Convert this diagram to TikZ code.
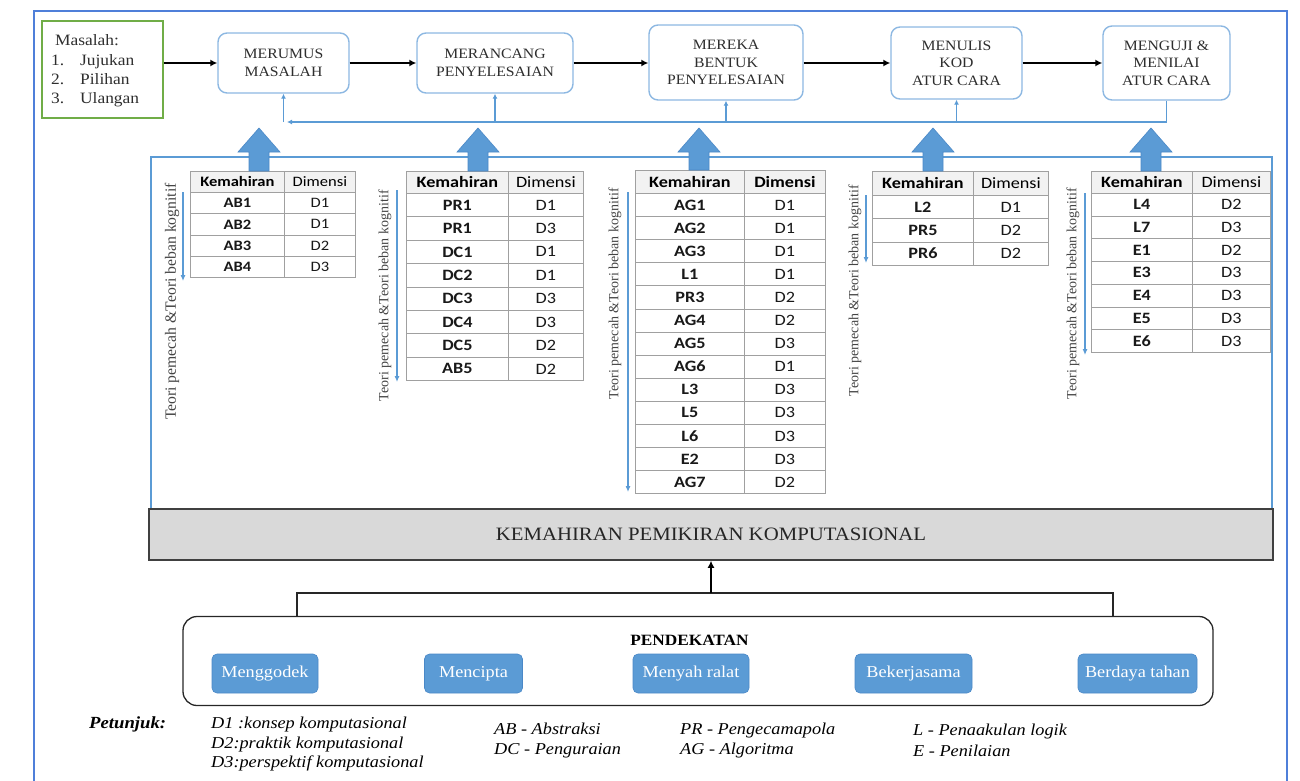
\documentclass[tikz,border=0pt]{standalone}
\usepackage{fontspec}
\setmainfont{Liberation Serif}[FakeStretch=1.1]
\newfontfamily\sidefont{Liberation Serif}
\newfontfamily\tabfont{Carlito}[FakeStretch=1.15]
\usetikzlibrary{arrows.meta}

\definecolor{outerblue}{HTML}{4F7FD9}
\definecolor{paleblue}{HTML}{5B9BD5}
\definecolor{arrowedge}{HTML}{4A88C7}
\definecolor{stageblue}{HTML}{8DB8E2}
\definecolor{probgreen}{HTML}{70AD47}
\definecolor{gridgray}{HTML}{A0A0A0}
\definecolor{headfill}{HTML}{F2F2F2}
\definecolor{bandfill}{HTML}{D9D9D9}
\definecolor{bandline}{HTML}{404040}
\definecolor{inkgray}{HTML}{2E2E2E}
\definecolor{softink}{HTML}{444444}

% one skills table: name, left x, column split x, right x, top y,
% header height, row height, font size, list of skill/dimension pairs
\newcommand\skilltab[9]{%
  \node[headcell, minimum width={#3-#2}, minimum height={#6},
        font=\tabfont\fontsize{#8}{#8}\selectfont\bfseries] (#1-hk) at (#2,#5) {Kemahiran};
  \node[headcell, minimum width={#4-#3}, minimum height={#6},
        font=\tabfont\fontsize{#8}{#8}\selectfont\dimstyle] (#1-hd) at (#3,#5) {Dimensi};
  \foreach \k/\d [count=\i] in {#9}{%
    \node[cell, minimum width={#3-#2}, minimum height={#7},
          font=\tabfont\fontsize{#8}{#8}\selectfont\bfseries] (#1-k\i) at (#2,{#5+#6+(\i-1)*#7}) {\k};
    \node[cell, minimum width={#4-#3}, minimum height={#7},
          font=\tabfont\fontsize{#8}{#8}\selectfont] (#1-d\i) at (#3,{#5+#6+(\i-1)*#7}) {\d};
  }%
}
% rotated side label with its downward arrow: name, text x, arrow x,
% text top, arrow top, arrow bottom, font size
\newcommand\sidenote[7]{%
  \node[sidetext, font=\sidefont\fontsize{#7}{#7}\selectfont] (#1-note) at (#2,#4)
       {Teori pemecah \&Teori beban kognitif};
  \coordinate (#1-atop) at (#3,#5);
  \coordinate (#1-abot) at (#3,#6);
  \draw[sidearrow] (#1-atop) -- (#1-abot);
}
% fat upward block arrow: centre x, bottom y
\newcommand\bigup[2]{%
  \filldraw[fill=paleblue, draw=arrowedge, line width=0.6pt]
    (#1,128) -- (#1+21,152) -- (#1+10,152) -- (#1+10,#2)
    -- (#1-10,#2) -- (#1-10,152) -- (#1-21,152) -- cycle;
}

\begin{document}
\begin{tikzpicture}[x=1pt,y=-1pt,
  probbox/.style={draw=probgreen, line width=1.3pt, minimum width=121, minimum height=97, inner sep=0pt},
  stage/.style={draw=stageblue, line width=1.4pt, rounded corners=9pt, fill=white,
    align=center, text=inkgray, inner sep=0pt, font=\fontsize{14.3}{17.6}\selectfont},
  blk/.style={line width=1.8pt, -{Latex[length=7pt,width=7pt]}},
  fb/.style={draw=paleblue, line width=1.1pt},
  fbtip/.style={fb, -{Latex[length=5pt,width=5pt]}},
  headcell/.style={draw=gridgray, fill=headfill, line width=0.8pt, anchor=north west,
    inner sep=0pt, text=black},
  cell/.style={draw=gridgray, fill=white, line width=0.8pt, anchor=north west,
    inner sep=0pt, text=black!90},
  sidetext/.style={rotate=90, anchor=east, inner sep=0pt, text=softink},
  sidearrow/.style={draw=paleblue, line width=1.1pt, -{Latex[length=6pt,width=5pt]}},
  band/.style={draw=bandline, fill=bandfill, line width=1.5pt, inner sep=0pt,
    minimum width=1124, minimum height=51, text=black!85,
    font=\fontsize{18.9}{22}\selectfont},
  approach/.style={draw=black!85, line width=1.3pt, rounded corners=14pt,
    minimum width=1030, minimum height=89, inner sep=0pt},
  pill/.style={fill=paleblue, draw=arrowedge, line width=0.6pt, rounded corners=5pt,
    minimum height=39, inner sep=0pt, text=white, font=\fontsize{16.6}{20}\selectfont},
  legend/.style={inner sep=0pt, anchor=base west, font=\fontsize{16.6}{20}\selectfont\itshape}
]
\useasboundingbox (0,0) rectangle (1300,780);

% outer frame
\draw[outerblue, line width=1.2pt] (34,795) -- (34,11) -- (1287,11) -- (1287,795);

% problem box
\node[probbox] (masalah) at (102.5,69.5) {};
\node[anchor=west, inner sep=0pt, text=inkgray, font=\fontsize{15.8}{19.3}\selectfont] (masalahlist) at (51,71)
  {\begin{tabular}{@{}p{29pt}@{}l@{}}
   \multicolumn{2}{@{\hspace{4pt}}l@{}}{Masalah:}\\
   1. & Jujukan\\
   2. & Pilihan\\
   3. & Ulangan
   \end{tabular}};

% stages
\node[stage, minimum width=131, minimum height=60] (merumus) at (283.5,63) {MERUMUS\\MASALAH};
\node[stage, minimum width=156, minimum height=60] (merancang) at (495,63) {MERANCANG\\PENYELESAIAN};
\node[stage, minimum width=154, minimum height=75] (mereka) at (726,62.5) {MEREKA\\BENTUK\\PENYELESAIAN};
\node[stage, minimum width=131, minimum height=72] (menulis) at (956.5,63) {MENULIS\\KOD\\ATUR CARA};
\node[stage, minimum width=127, minimum height=74] (menguji) at (1166.5,63) {MENGUJI \&\\MENILAI\\ATUR CARA};

\draw[blk] (masalah.east |- merumus.west) -- (merumus.west);
\draw[blk] (merumus.east) -- (merancang.west);
\draw[blk] (merancang.east) -- (merancang.east -| mereka.west);
\draw[blk] (mereka.east |- menulis.west) -- (menulis.west);
\draw[blk] (menulis.east) -- (menulis.east -| menguji.west);

% feedback line
\coordinate (fbline) at (0,122);
\coordinate (fbend) at (287,122);
\draw[fbtip] (menguji.south) -- (menguji.south |- fbline) -- (fbend);
\draw[fbtip] (merumus.south |- fbline) -- (merumus.south);
\draw[fbtip] (merancang.south |- fbline) -- (merancang.south);
\draw[fbtip] (mereka.south |- fbline) -- (mereka.south);
\draw[fbtip] (menulis.south |- fbline) -- (menulis.south);

% frame around the tables
\draw[paleblue, line width=1.2pt] (151,509) -- (151,157) -- (1272,157) -- (1272,509);

% tables
\def\dimstyle{\mdseries\color{softink}}
\skilltab{t1}{190}{284}{355}{171}{21}{21.3}{14.4}{AB1/D1,AB2/D1,AB3/D2,AB4/D3}
\skilltab{t2}{406}{508}{583}{171}{22}{23.4}{15.8}{PR1/D1,PR1/D3,DC1/D1,DC2/D1,DC3/D3,DC4/D3,DC5/D2,AB5/D2}
\def\dimstyle{\bfseries\color{black}}
\skilltab{t3}{635}{744}{825}{170}{23}{23.1}{15.8}{AG1/D1,AG2/D1,AG3/D1,L1/D1,PR3/D2,AG4/D2,AG5/D3,AG6/D1,L3/D3,L5/D3,L6/D3,E2/D3,AG7/D2}
\def\dimstyle{\mdseries\color{softink}}
\skilltab{t4}{872}{973}{1048}{171}{24}{23.3}{15.8}{L2/D1,PR5/D2,PR6/D2}
\skilltab{t5}{1091}{1192}{1270}{171}{22}{22.7}{15.8}{L4/D2,L7/D3,E1/D2,E3/D3,E4/D3,E5/D3,E6/D3}

% side labels
\sidenote{s1}{172}{183}{183}{192}{281}{15.7}
\sidenote{s2}{385}{397}{190}{190}{382}{14}
\sidenote{s3}{615}{628}{188}{192}{492}{14}
\sidenote{s4}{855}{866}{185}{195}{263}{14}
\sidenote{s5}{1073}{1085}{188}{193}{355}{14}

% block arrows
\bigup{259}{171}
\bigup{478}{171}
\bigup{699}{170}
\bigup{933}{171}
\bigup{1151}{171}

% computational thinking band
\node[band] (band) at (711,534.5) {KEMAHIRAN PEMIKIRAN KOMPUTASIONAL};

% approach box and its bracket
\node[approach] (approach) at (698,661) {};
\coordinate (brl) at (297,593);
\coordinate (brr) at (1113,593);
\coordinate (brm) at (711,593);
\draw[black!85, line width=1.3pt] (brl |- approach.north) -- (brl) -- (brr) -- (brr |- approach.north);
\draw[blk] (brm) -- (band.south -| brm);
\node[inner sep=0pt, font=\fontsize{15.7}{18}\selectfont\bfseries] (pendekatan) at (689.5,640) {PENDEKATAN};
\node[pill, minimum width=106] (p1) at (265,673.5) {Menggodek};
\node[pill, minimum width=98] (p2) at (473.5,673.5) {Mencipta};
\node[pill, minimum width=116] (p3) at (691,673.5) {Menyah ralat};
\node[pill, minimum width=117] (p4) at (913.5,673.5) {Bekerjasama};
\node[pill, minimum width=119] (p5) at (1137.5,673.5) {Berdaya tahan};

% key
\node[legend, font=\fontsize{17}{20}\selectfont\bfseries\itshape] (petunjuk) at (89,728) {Petunjuk:};
\node[legend] (kd1) at (211,728) {D1 :konsep komputasional};
\node[legend] (kd2) at (211,748) {D2:praktik komputasional};
\node[legend] (kd3) at (211,767) {D3:perspektif komputasional};
\node[legend] (kab) at (494,734) {AB - Abstraksi};
\node[legend] (kdc) at (494,754) {DC - Penguraian};
\node[legend] (kpr) at (680,734) {PR - Pengecamapola};
\node[legend] (kag) at (680,754) {AG - Algoritma};
\node[legend] (kl) at (913,735) {L - Penaakulan logik};
\node[legend] (ke) at (913,756) {E - Penilaian};
\end{tikzpicture}
\end{document}
